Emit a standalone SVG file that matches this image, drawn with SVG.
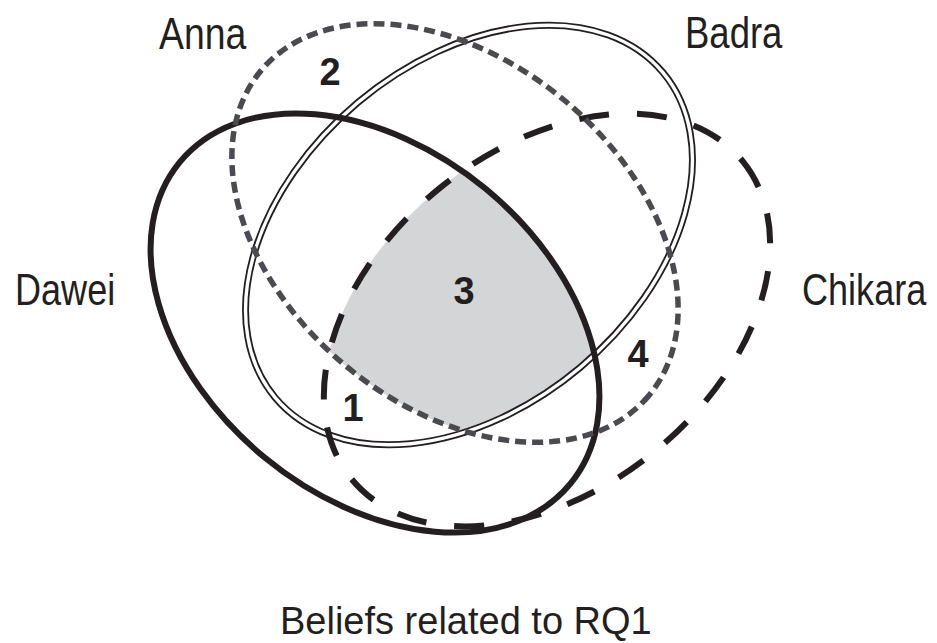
<svg xmlns="http://www.w3.org/2000/svg" width="937" height="643" viewBox="0 0 937 643">
<style>
.name{font-family:"Liberation Sans",Arial,sans-serif;font-size:44px;fill:#231f20}
.num{font-family:"Liberation Sans",Arial,sans-serif;font-size:38px;font-weight:bold;fill:#231f20;text-anchor:middle}
.title{font-family:"Liberation Sans",Arial,sans-serif;font-size:38px;fill:#231f20}
.anna{fill:none;stroke:#4a4a4f;stroke-width:5.5;stroke-dasharray:11 6}
.badraO{fill:none;stroke:#231f20;stroke-width:7}
.badraI{fill:none;stroke:#ffffff;stroke-width:3.4}
.chikara{fill:none;stroke:#231f20;stroke-width:6;stroke-dasharray:30 28}
.dawei{fill:none;stroke:#231f20;stroke-width:6}
</style>
<defs>
<clipPath id="cA"><ellipse cx="455" cy="233" rx="253" ry="172" transform="rotate(40 455 233)"/></clipPath>
<clipPath id="cB"><ellipse cx="469" cy="235" rx="253" ry="173" transform="rotate(-40 469 235)"/></clipPath>
<clipPath id="cC"><ellipse cx="547" cy="320" rx="252" ry="170" transform="rotate(-39 547 320)"/></clipPath>
</defs>
<rect width="937" height="643" fill="#ffffff"/>
<g id="shared-region" clip-path="url(#cA)">
<g clip-path="url(#cB)">
<g clip-path="url(#cC)">
<ellipse cx="375" cy="323" rx="253" ry="174" transform="rotate(39.5 375 323)" fill="#d4d5d7"/>
</g>
</g>
</g>
<g id="connectors"></g>
<g id="badra-set">
<ellipse class="badraO" cx="469" cy="235" rx="253" ry="173" transform="rotate(-40 469 235)"/>
<ellipse class="badraI" cx="469" cy="235" rx="253" ry="173" transform="rotate(-40 469 235)"/>
<text class="name" transform="translate(685 48) scale(0.83 1)">Badra</text>
</g>
<g id="dawei-set">
<ellipse class="dawei" cx="375" cy="323" rx="253" ry="174" transform="rotate(39.5 375 323)"/>
<text class="name" transform="translate(15 305) scale(0.82 1)">Dawei</text>
</g>
<g id="chikara-set">
<ellipse class="chikara" cx="547" cy="320" rx="252" ry="170" transform="rotate(-39 547 320)"/>
<text class="name" transform="translate(802 305) scale(0.82 1)">Chikara</text>
</g>
<g id="anna-set">
<ellipse class="anna" cx="455" cy="233" rx="253" ry="172" transform="rotate(40 455 233)"/>
<text class="name" transform="translate(159 49) scale(0.85 1)">Anna</text>
</g>
<g id="labels">
<text class="num" x="330" y="85">2</text>
<text class="num" x="464" y="304">3</text>
<text class="num" x="353" y="421">1</text>
<text class="num" x="638" y="367">4</text>
</g>
<g id="caption">
<text class="title" x="280" y="634">Beliefs related to RQ1</text>
</g>
</svg>
